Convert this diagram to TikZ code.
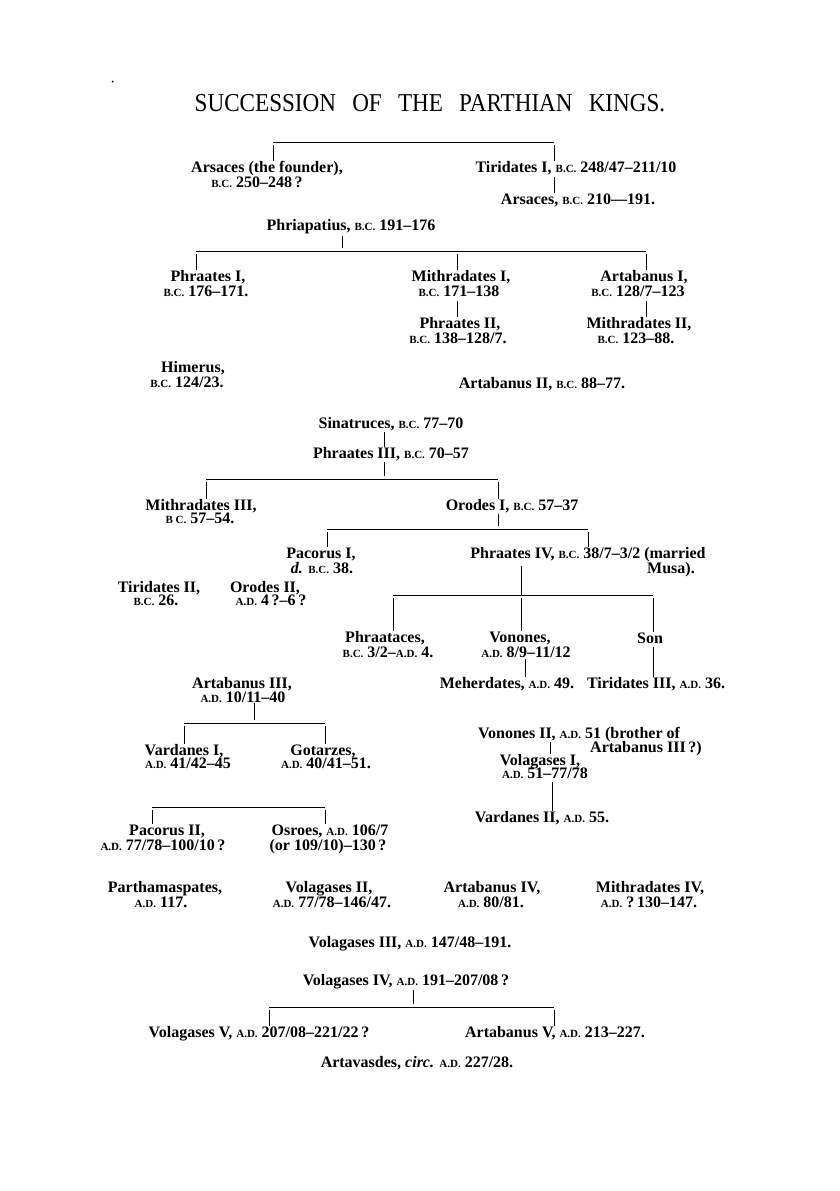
\documentclass[tikz,border=0pt]{standalone}
\usepackage{fontspec}
\setmainfont{Liberation Serif}
\usepackage{graphicx}
\newcommand\smcx[1]{{\fontsize{11}{11}\selectfont #1}}
\newcommand\bcx{\smcx{B.C.}}
\newcommand\adx{\smcx{A.D.}}
\begin{document}
\begin{tikzpicture}[x=1pt,y=-1pt,
  lbl/.style={inner sep=0pt,anchor=base,font=\fontsize{16}{16}\selectfont\bfseries},
  conn/.style={line width=0.9pt,line cap=butt}]
\useasboundingbox[fill=white] (0,0) rectangle (840,1191);
\fill (112.5,81.5) circle (1pt);
% title
\node[inner sep=0pt] (title) at (430,103) {\scalebox{0.9}[1]{\fontsize{25.7}{26}\selectfont SUCCESSION\hspace{18pt}OF\hspace{18pt}THE\hspace{18pt}PARTHIAN\hspace{18pt}KINGS.}};
% labels
\node[lbl] (ars) at (267,172) {Arsaces (the founder),};
\node[lbl] (ars-d) at (257,187) {\bcx{} 250--248\,?};
\node[lbl] (tir1) at (576,172) {Tiridates I, \bcx{} 248/47--211/10};
\node[lbl] (ars2) at (578,204) {Arsaces, \bcx{} 210---191.};
\node[lbl] (phria) at (351,230) {Phriapatius, \bcx{} 191--176};
\node[lbl] (phr1) at (208,281) {Phraates I,};
\node[lbl] (phr1-d) at (206,296) {\bcx{} 176--171.};
\node[lbl] (mit1) at (461,281) {Mithradates I,};
\node[lbl] (mit1-d) at (459,296) {\bcx{} 171--138};
\node[lbl] (phr2) at (460,328) {Phraates II,};
\node[lbl] (phr2-d) at (458,343) {\bcx{} 138--128/7.};
\node[lbl] (art1) at (644,281) {Artabanus I,};
\node[lbl] (art1-d) at (638,296) {\bcx{} 128/7--123};
\node[lbl] (mit2) at (639,328) {Mithradates II,};
\node[lbl] (mit2-d) at (636,343) {\bcx{} 123--88.};
\node[lbl] (him) at (193,372) {Himerus,};
\node[lbl] (him-d) at (187,387) {\bcx{} 124/23.};
\node[lbl] (art2) at (542,388) {Artabanus II, \bcx{} 88--77.};
\node[lbl] (sin) at (391,428) {Sinatruces, \bcx{} 77--70};
\node[lbl] (phr3) at (391,458) {Phraates III, \bcx{} 70--57};
\node[lbl] (mit3) at (201,510) {Mithradates III,};
\node[lbl] (mit3-d) at (200,523) {\smcx{B C.} 57--54.};
\node[lbl] (oro1) at (512,510) {Orodes I, \bcx{} 57--37};
\node[lbl] (pac1) at (321,558) {Pacorus I,};
\node[lbl] (pac1-d) at (322,573) {\textit{d.} \bcx{} 38.};
\node[lbl] (phr4) at (588,558) {Phraates IV, \bcx{} 38/7--3/2 (married};
\node[lbl] (phr4-d) at (671,573) {Musa).};
\node[lbl] (tir2) at (159,592) {Tiridates II,};
\node[lbl] (tir2-d) at (156,605) {\bcx{} 26.};
\node[lbl] (oro2) at (265,592) {Orodes II,};
\node[lbl] (oro2-d) at (271,605) {\adx{} 4\,?--6\,?};
\node[lbl] (phrt) at (385,642) {Phraataces,};
\node[lbl] (phrt-d) at (388,657) {\bcx{} 3/2--\adx{} 4.};
\node[lbl] (von) at (520,642) {Vonones,};
\node[lbl] (von-d) at (526,657) {\adx{} 8/9--11/12};
\node[lbl] (son) at (650,643) {Son};
\node[lbl] (meh) at (507,688) {Meherdates, \adx{} 49.};
\node[lbl] (tir3) at (656,688) {Tiridates III, \adx{} 36.};
\node[lbl] (art3) at (242,688) {Artabanus III,};
\node[lbl] (art3-d) at (243,702) {\adx{} 10/11--40};
\node[lbl] (var1) at (184,755) {Vardanes I,};
\node[lbl] (var1-d) at (188,768) {\adx{} 41/42--45};
\node[lbl] (got) at (323,755) {Gotarzes,};
\node[lbl] (got-d) at (326,768) {\adx{} 40/41--51.};
\node[lbl] (von2) at (579,738) {Vonones II, \adx{} 51 (brother of};
\node[lbl] (von2-d) at (646,752) {Artabanus III\,?)};
\node[lbl] (vol1) at (540,765) {Volagases I,};
\node[lbl] (vol1-d) at (545,778) {\adx{} 51--77/78};
\node[lbl] (var2) at (542,822) {Vardanes II, \adx{} 55.};
\node[lbl] (pac2) at (167,835) {Pacorus II,};
\node[lbl] (pac2-d) at (163,850) {\adx{} 77/78--100/10\,?};
\node[lbl] (osr) at (330,835) {Osroes, \adx{} 106/7};
\node[lbl] (osr-d) at (328,850) {(or 109/10)--130\,?};
\node[lbl] (parth) at (165,892) {Parthamaspates,};
\node[lbl] (parth-d) at (161,907) {\adx{} 117.};
\node[lbl] (vol2) at (329,892) {Volagases II,};
\node[lbl] (vol2-d) at (332,907) {\adx{} 77/78--146/47.};
\node[lbl] (art4) at (492,892) {Artabanus IV,};
\node[lbl] (art4-d) at (491,907) {\adx{} 80/81.};
\node[lbl] (mit4) at (650,892) {Mithradates IV,};
\node[lbl] (mit4-d) at (649,907) {\adx{} ?\,130--147.};
\node[lbl] (vol3) at (410,947) {Volagases III, \adx{} 147/48--191.};
\node[lbl] (vol4) at (406,985) {Volagases IV, \adx{} 191--207/08\,?};
\node[lbl] (vol5) at (259,1037) {Volagases V, \adx{} 207/08--221/22\,?};
\node[lbl] (art5) at (555,1037) {Artabanus V, \adx{} 213--227.};
\node[lbl] (artv) at (417,1067) {Artavasdes, \textit{circ.} \adx{} 227/28.};
% connectors
% Arsaces / Tiridates I
\coordinate (a1) at (273,142); \coordinate (a2) at (554,142);
\draw[conn] (a1) -- (a2);
\draw[conn] ([yshift=-3pt]a1) -- (ars.north -| a1);
\draw[conn] ([yshift=-3pt]a2) -- (tir1.north -| a2);
\draw[conn] ([yshift=-2pt]tir1.south -| a2) -- (ars2.north -| a2);
% Phriapatius
\coordinate (b0) at (342,251); \coordinate (b1) at (196,251); \coordinate (b2) at (457,251); \coordinate (b3) at (646,251);
\draw[conn] ([yshift=-2pt]phria.south -| b0) -- ([yshift=3pt]b0);
\draw[conn] (b1) -- (b3);
\draw[conn] ([yshift=-3pt]b1) -- (phr1.north -| b1);
\draw[conn] ([yshift=-3pt]b2) -- (mit1.north -| b2);
\draw[conn] ([yshift=-3pt]b3) -- (art1.north -| b3);
\draw[conn] ([yshift=-5pt]mit1-d.south -| b2) -- (phr2.north -| b2);
\draw[conn] ([yshift=-5pt]art1-d.south -| b3) -- (mit2.north -| b3);
% Sinatruces / Phraates III
\coordinate (c0) at (384,479); \coordinate (c1) at (206,479); \coordinate (c2) at (498,479);
\draw[conn] ([yshift=-1pt]sin.south -| c0) -- (phr3.north -| c0);
\draw[conn] ([yshift=-1pt]phr3.south -| c0) -- ([yshift=3pt]c0);
\draw[conn] (c1) -- (c2);
\draw[conn] ([yshift=-3pt]c1) -- (mit3.north -| c1);
\draw[conn] ([yshift=-3pt]c2) -- (oro1.north -| c2);
% Orodes I
\coordinate (d1) at (327,529); \coordinate (d2) at (588,529);
\draw[conn] ([yshift=-1pt]oro1.south -| c2) -- ([yshift=3pt]c2 |- d1);
\draw[conn] (d1) -- (d2);
\draw[conn] ([yshift=-3pt]d1) -- (pac1.north -| d1);
\draw[conn] ([yshift=-3pt]d2) -- (phr4.north -| d2);
% Phraates IV
\coordinate (e0) at (521,595); \coordinate (e1) at (393,595); \coordinate (e2) at (653,595);
\draw[conn] ([yshift=-4pt]phr4.south -| e0) -- (e0);
\draw[conn] (e1) -- (e2);
\draw[conn] ([yshift=-3pt]e1) -- (phrt.north -| e1);
\draw[conn] ([yshift=-3pt]e0) -- (von.north -| e0);
\draw[conn] ([yshift=-3pt]e2) -- (son.north -| e2);
\coordinate (f1) at (525,660);
\draw[conn] ([yshift=-2pt]von-d.south -| f1) -- (meh.north -| f1);
\draw[conn] ([yshift=-4pt]son.south -| e2) -- (tir3.north -| e2);
% Artabanus III
\coordinate (g0) at (254,723); \coordinate (g1) at (184,723); \coordinate (g2) at (325,723);
\draw[conn] ([yshift=-1pt]art3-d.south -| g0) -- ([yshift=3pt]g0);
\draw[conn] (g1) -- (g2);
\draw[conn] ([yshift=-3pt]g1) -- (var1.north -| g1);
\draw[conn] ([yshift=-3pt]g2) -- (got.north -| g2);
% Vonones II line
\coordinate (h1) at (550,740); \coordinate (h2) at (552,790);
\draw[conn] (von2.south -| h1) -- (vol1.north -| h1);
\draw[conn] ([yshift=-4pt]vol1-d.south -| h2) -- (var2.north -| h2);
% Pacorus II / Osroes
\coordinate (i1) at (152,807); \coordinate (i2) at (325,807);
\draw[conn] (i1) -- (i2);
\draw[conn] ([yshift=-3pt]i1) -- (pac2.north -| i1);
\draw[conn] ([yshift=-3pt]i2) -- (osr.north -| i2);
% Volagases IV
\coordinate (k0) at (413,1007); \coordinate (k1) at (269,1007); \coordinate (k2) at (554,1007);
\draw[conn] ([yshift=-1pt]vol4.south -| k0) -- ([yshift=3pt]k0);
\draw[conn] (k1) -- (k2);
\draw[conn] ([yshift=-3pt]k1) -- (vol5.north -| k1);
\draw[conn] ([yshift=-3pt]k2) -- (art5.north -| k2);
\end{tikzpicture}
\end{document}
